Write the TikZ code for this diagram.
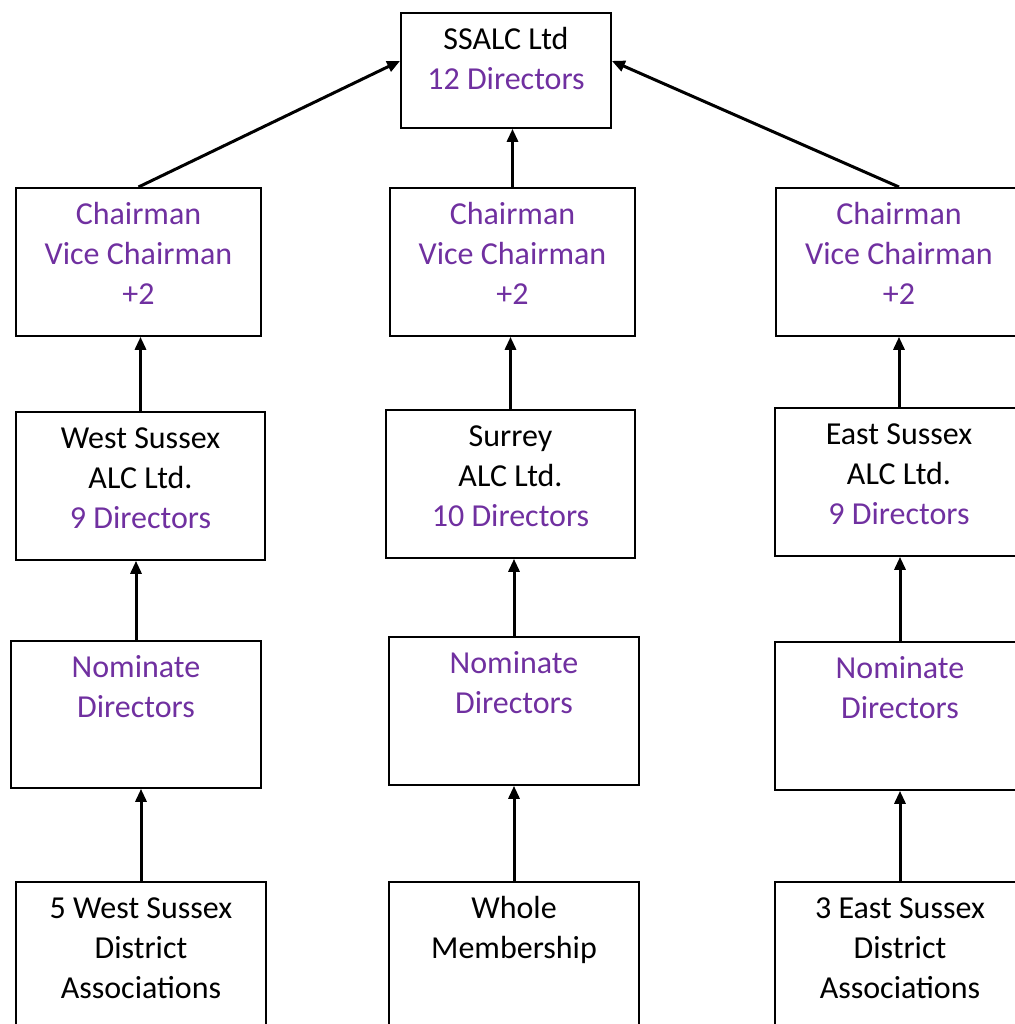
\documentclass[tikz,border=0pt]{standalone}
\usepackage{fontspec}
\setmainfont{Carlito}
\usepackage{tikz}
\usetikzlibrary{arrows.meta}
\definecolor{dirpurple}{RGB}{112,48,160}

\begin{document}
\begin{tikzpicture}[x=0.5pt, y=-0.5pt,
  box/.style 2 args={draw, line width=0.9pt, inner sep=0pt, anchor=north,
    font=\fontsize{16}{20}\selectfont,
    execute at begin node={\begin{minipage}[c][#2][t]{#1}\centering\vspace*{4.5pt}\strut},
    execute at end node={\end{minipage}}},
  up/.style={line width=1.5pt, -{Triangle[length=6.5pt, width=5.5pt]}}]
\useasboundingbox (0,0) rectangle (1015,1024);
%top
\node [box={105pt}{57.5pt}] (ssalc) at (506,12) {SSALC Ltd\\\textcolor{dirpurple}{12 Directors}};
%chairmen
\node [box={122.5pt}{74pt}, text=dirpurple] (wchair) at (138.5,187) {Chairman\\Vice Chairman\\+2};
\node [box={122.5pt}{74pt}, text=dirpurple] (schair) at (512.5,187) {Chairman\\Vice Chairman\\+2};
\node [box={123pt}{74pt}, text=dirpurple] (echair) at (899,187) {Chairman\\Vice Chairman\\+2};
%companies
\node [box={124.5pt}{74pt}] (wsalc) at (140.5,411) {West Sussex\\ALC Ltd.\\\textcolor{dirpurple}{9 Directors}};
\node [box={124.5pt}{74pt}] (salc) at (510.5,409) {Surrey\\ALC Ltd.\\\textcolor{dirpurple}{10 Directors}};
\node [box={124pt}{74pt}] (esalc) at (899,407) {East Sussex\\ALC Ltd.\\\textcolor{dirpurple}{9 Directors}};
%nominate
\node [box={125pt}{73.5pt}, text=dirpurple] (wnom) at (136,640) {Nominate\\Directors};
\node [box={125pt}{74pt}, text=dirpurple] (snom) at (514,636) {Nominate\\Directors};
\node [box={125pt}{74pt}, text=dirpurple] (enom) at (900,641) {Nominate\\Directors};
%members
\node [box={125pt}{80pt}] (wmem) at (141,881) {5 West Sussex\\District\\Associations};
\node [box={125pt}{80pt}] (smem) at (514,881) {Whole\\Membership};
\node [box={125pt}{80pt}] (emem) at (900,881) {3 East Sussex\\District\\Associations};
%arrows to top
\draw [up] (wchair.north) -- ([yshift=4.75pt]ssalc.west);
\draw [up] (schair.north) -- (schair.north |- ssalc.south);
\draw [up] (echair.north) -- ([yshift=4.75pt]ssalc.east);
%arrows in columns
\draw [up] (wsalc.north) -- (wsalc.north |- wchair.south);
\draw [up] (salc.north) -- (salc.north |- schair.south);
\draw [up] (esalc.north) -- (esalc.north |- echair.south);
\draw [up] (wnom.north) -- (wnom.north |- wsalc.south);
\draw [up] (snom.north) -- (snom.north |- salc.south);
\draw [up] (enom.north) -- (enom.north |- esalc.south);
\draw [up] (wmem.north) -- (wmem.north |- wnom.south);
\draw [up] (smem.north) -- (smem.north |- snom.south);
\draw [up] (emem.north) -- (emem.north |- enom.south);
\end{tikzpicture}
\end{document}
